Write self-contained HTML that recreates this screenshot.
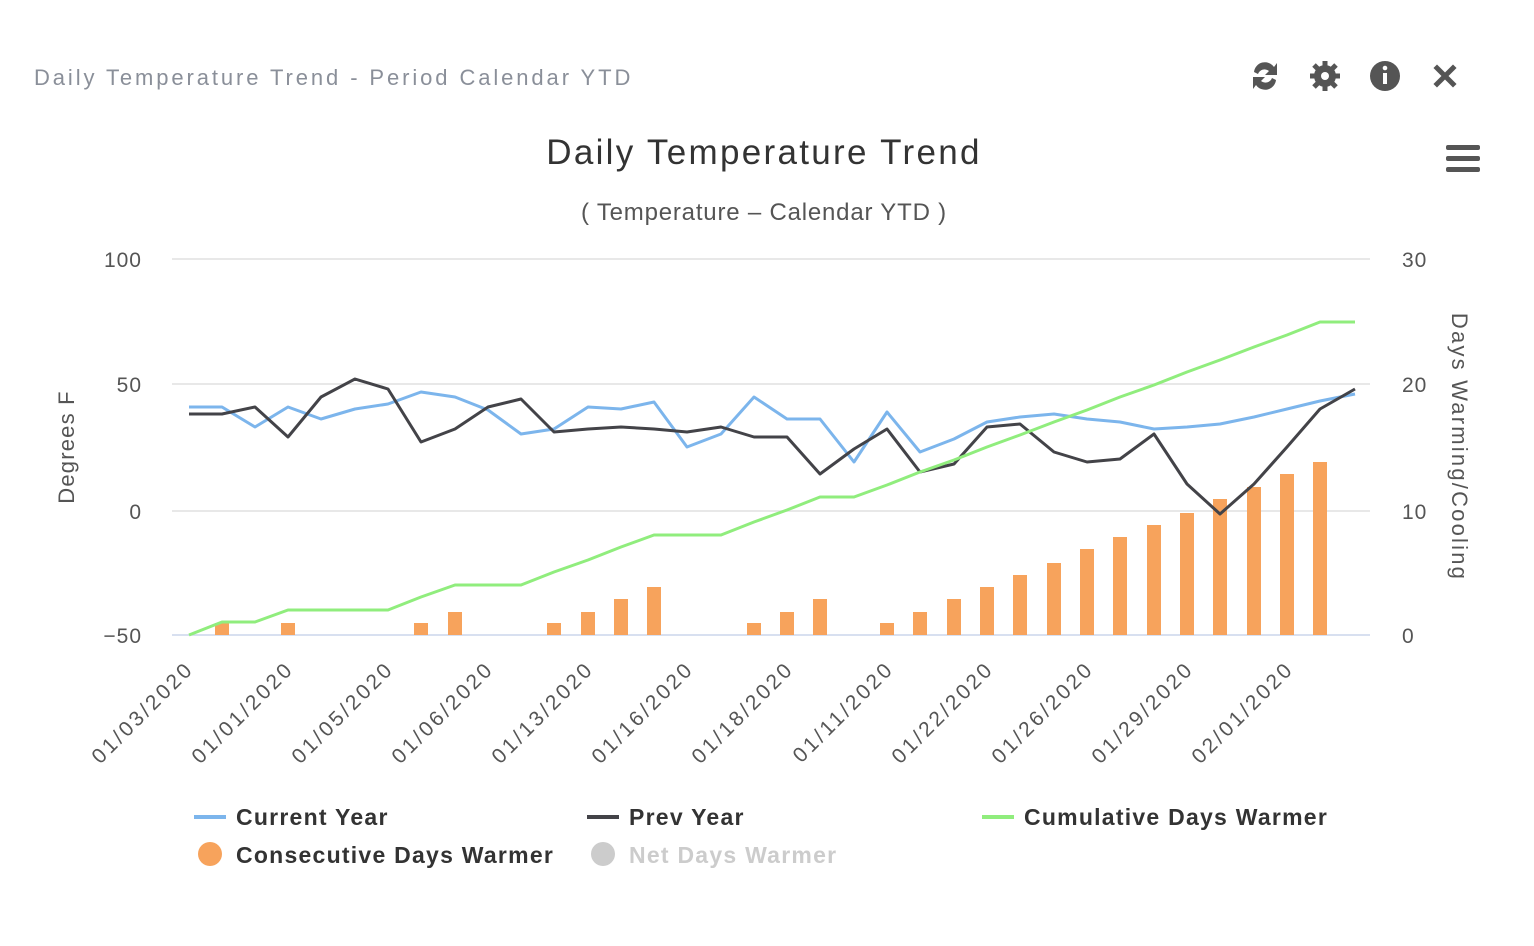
<!DOCTYPE html>
<html><head><meta charset="utf-8"><style>
body{margin:0;background:#fff;}
svg{display:block;font-family:"Liberation Sans",sans-serif;}
</style></head><body>
<svg width="1534" height="946" viewBox="0 0 1534 946" xmlns="http://www.w3.org/2000/svg">
<rect width="1534" height="946" fill="#fff"/>
<text x="34" y="85" font-size="22" fill="#8a8f99" letter-spacing="2.9">Daily Temperature Trend -  Period Calendar YTD</text>
<!-- icons -->
<g fill="#555">
<path d="M1254 72 a11 11 0 0 1 20 -5 l3 -4 v12 h-12 l4 -4 a7 7 0 0 0 -11 3z M1276 80 a11 11 0 0 1 -20 5 l-3 4 v-12 h12 l-4 4 a7 7 0 0 0 11 -3z"/>
<circle cx="1325" cy="76" r="11"/>
<g stroke="#555" stroke-width="5"><line x1="1325" y1="61" x2="1325" y2="91"/><line x1="1310" y1="76" x2="1340" y2="76"/><line x1="1314" y1="65" x2="1336" y2="87"/><line x1="1336" y1="65" x2="1314" y2="87"/></g>
<circle cx="1325" cy="76" r="4" fill="#fff"/>
<circle cx="1385" cy="76" r="15"/>
<g stroke="#555" stroke-width="5" stroke-linecap="square"><line x1="1437" y1="68" x2="1453" y2="84"/><line x1="1453" y1="68" x2="1437" y2="84"/></g>
</g>
<rect x="1383" y="73" width="4" height="11" fill="#fff"/><circle cx="1385" cy="68" r="2.3" fill="#fff"/>
<g fill="#555"><rect x="1446" y="145" width="34" height="5" rx="2"/><rect x="1446" y="156" width="34" height="5" rx="2"/><rect x="1446" y="167" width="34" height="5" rx="2"/></g>
<text x="764" y="164" font-size="35" fill="#333" text-anchor="middle" letter-spacing="2.3">Daily Temperature Trend</text>
<text x="764" y="220" font-size="24" fill="#555" text-anchor="middle" letter-spacing="0.8">( Temperature – Calendar YTD )</text>
<!-- grid -->
<g stroke="#e0e0e0" stroke-width="1.5"><line x1="172" y1="259" x2="1370" y2="259"/><line x1="172" y1="384" x2="1370" y2="384"/><line x1="172" y1="511" x2="1370" y2="511"/></g>
<line x1="172" y1="635" x2="1370" y2="635" stroke="#ccd6eb" stroke-width="1.5"/>
<g font-size="21" fill="#555" text-anchor="end" letter-spacing="1"><text x="142" y="267">100</text><text x="142" y="392">50</text><text x="142" y="519">0</text><text x="142" y="643">−50</text></g>
<g font-size="21" fill="#555" letter-spacing="1"><text x="1402" y="267">30</text><text x="1402" y="392">20</text><text x="1402" y="519">10</text><text x="1402" y="643">0</text></g>
<text transform="translate(74,447) rotate(-90)" font-size="22" fill="#555" text-anchor="middle" letter-spacing="1.2">Degrees F</text>
<text transform="translate(1452,447) rotate(90)" font-size="22" fill="#555" text-anchor="middle" letter-spacing="2.2">Days Warming/Cooling</text>
<!-- bars -->
<g fill="#f7a35c">
<rect x="215" y="623" width="14" height="12"/><rect x="281" y="623" width="14" height="12"/><rect x="414" y="623" width="14" height="12"/><rect x="448" y="612" width="14" height="23"/><rect x="547" y="623" width="14" height="12"/><rect x="581" y="612" width="14" height="23"/><rect x="614" y="599" width="14" height="36"/><rect x="647" y="587" width="14" height="48"/><rect x="747" y="623" width="14" height="12"/><rect x="780" y="612" width="14" height="23"/><rect x="813" y="599" width="14" height="36"/><rect x="880" y="623" width="14" height="12"/><rect x="913" y="612" width="14" height="23"/><rect x="947" y="599" width="14" height="36"/><rect x="980" y="587" width="14" height="48"/><rect x="1013" y="575" width="14" height="60"/><rect x="1047" y="563" width="14" height="72"/><rect x="1080" y="549" width="14" height="86"/><rect x="1113" y="537" width="14" height="98"/><rect x="1147" y="525" width="14" height="110"/><rect x="1180" y="513" width="14" height="122"/><rect x="1213" y="499" width="14" height="136"/><rect x="1247" y="487" width="14" height="148"/><rect x="1280" y="474" width="14" height="161"/><rect x="1313" y="462" width="14" height="173"/>
</g>
<polyline fill="none" stroke="#7cb5ec" stroke-width="3" stroke-linejoin="round" points="189,407 222,407 255,427 288,407 321,419 355,409 388,404 421,392 455,397 488,410 521,434 554,429 588,407 621,409 654,402 687,447 721,434 754,397 787,419 820,419 854,462 887,412 920,452 954,439 987,422 1020,417 1054,414 1087,419 1120,422 1154,429 1187,427 1220,424 1254,417 1287,409 1320,401 1355,394"/>
<polyline fill="none" stroke="#434348" stroke-width="3" stroke-linejoin="round" points="189,414 222,414 255,407 288,437 321,397 355,379 388,389 421,442 455,429 488,407 521,399 554,432 588,429 621,427 654,429 687,432 721,427 754,437 787,437 820,474 854,449 887,429 920,472 954,464 987,427 1020,424 1054,452 1087,462 1120,459 1154,434 1187,484 1220,514 1254,484 1287,447 1320,409 1355,389"/>
<polyline fill="none" stroke="#90ed7d" stroke-width="3" stroke-linejoin="round" points="189,635 222,622 255,622 288,610 321,610 355,610 388,610 421,597 455,585 488,585 521,585 554,572 588,560 621,547 654,535 687,535 721,535 754,522 787,510 820,497 854,497 887,485 920,472 954,460 987,447 1020,435 1054,422 1087,410 1120,397 1154,385 1187,372 1220,360 1254,347 1287,335 1320,322 1355,322"/>
<!-- x labels -->
<g font-size="21" fill="#555" text-anchor="end" letter-spacing="2.9">
<text transform="translate(195,670) rotate(-45)">01/03/2020</text>
<text transform="translate(295,670) rotate(-45)">01/01/2020</text>
<text transform="translate(395,670) rotate(-45)">01/05/2020</text>
<text transform="translate(495,670) rotate(-45)">01/06/2020</text>
<text transform="translate(595,670) rotate(-45)">01/13/2020</text>
<text transform="translate(695,670) rotate(-45)">01/16/2020</text>
<text transform="translate(795,670) rotate(-45)">01/18/2020</text>
<text transform="translate(895,670) rotate(-45)">01/11/2020</text>
<text transform="translate(995,670) rotate(-45)">01/22/2020</text>
<text transform="translate(1095,670) rotate(-45)">01/26/2020</text>
<text transform="translate(1195,670) rotate(-45)">01/29/2020</text>
<text transform="translate(1295,670) rotate(-45)">02/01/2020</text>
</g>
<!-- legend -->
<g font-size="23" font-weight="bold" fill="#333" letter-spacing="1.25">
<line x1="194" y1="817" x2="226" y2="817" stroke="#7cb5ec" stroke-width="4"/><text x="236" y="825">Current Year</text>
<line x1="587" y1="817" x2="619" y2="817" stroke="#434348" stroke-width="4"/><text x="629" y="825">Prev Year</text>
<line x1="982" y1="817" x2="1014" y2="817" stroke="#90ed7d" stroke-width="4"/><text x="1024" y="825">Cumulative Days Warmer</text>
<circle cx="210" cy="854" r="12" fill="#f7a35c"/><text x="236" y="863">Consecutive Days Warmer</text>
<circle cx="603" cy="854" r="12" fill="#ccc"/><text x="629" y="863" fill="#ccc">Net Days Warmer</text>
</g>
</svg>
</body></html>
